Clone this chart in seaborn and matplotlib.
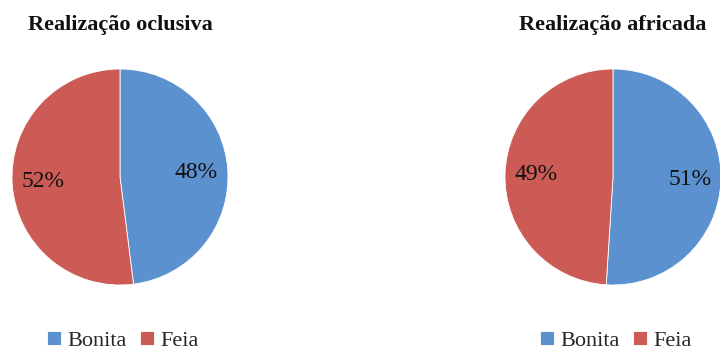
import matplotlib
matplotlib.use("Agg")
import matplotlib.pyplot as plt
import seaborn as sns

# data
categories = ["Bonita", "Feia"]
titles = ["Realização oclusiva", "Realização africada"]
oclusiva = [48, 52]
africada = [51, 49]

sns.set_theme(style="white")
plt.rcParams['font.family'] = ['Liberation Serif', 'DejaVu Serif']

colors = ["#5b91cf", "#cc5b56"]

fig = plt.figure(figsize=(7.2, 3.5), dpi=100)
W, H = 720, 350

# pixel centres of each pie, radius in px
centres = [(120, 177), (613, 177)]
R = 108

for (cx, cy), title, vals in zip(centres, titles, [oclusiva, africada]):
    ax = fig.add_axes([(cx - R) / W, (H - cy - R) / H, 2 * R / W, 2 * R / H])
    wedges, texts = ax.pie(
        vals, colors=colors, startangle=90, counterclock=False,
        labels=[f"{v}%" for v in vals], labeldistance=0.71,
        wedgeprops=dict(edgecolor="white", linewidth=0.6),
        textprops=dict(fontsize=17, color="#111111", ha="center", va="center"),
    )
    ax.set_xlim(-1, 1)
    ax.set_ylim(-1, 1)
    ax.set_aspect("equal")
    ax.axis("off")
    fig.text(cx / W, 1 - 25 / H, title, ha="center", va="center",
             fontsize=16, fontweight="bold", color="#111111")
    fig.legend(wedges, categories, loc="center", bbox_to_anchor=((cx + 3) / W, 9 / H),
               ncol=2, frameon=False, fontsize=16, handlelength=0.6, handleheight=0.6,
               handletextpad=0.3, columnspacing=0.6, borderaxespad=0)

fig.savefig("out.png", dpi=100)
